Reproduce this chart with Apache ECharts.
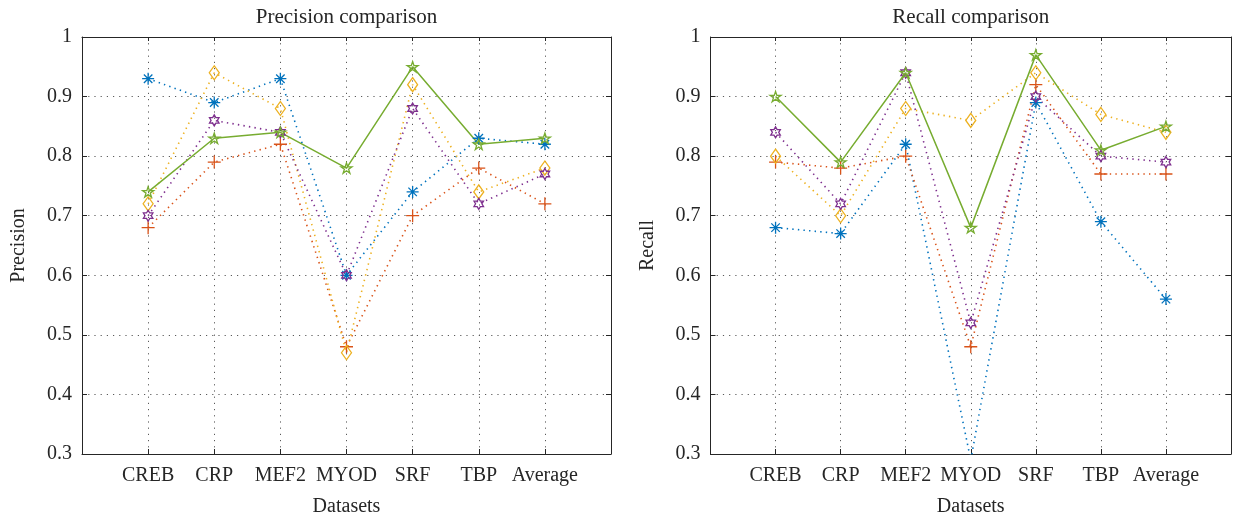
<!DOCTYPE html>
<html>
<head>
<meta charset="utf-8">
<script src="https://cdn.jsdelivr.net/npm/echarts@6/dist/echarts.min.js"></script>
<style>
html,body{margin:0;padding:0;background:#fff;}
#chart{width:1239px;height:520px;}
</style>
</head>
<body>
<div id="chart"></div>
<script>
// ---- data ----
const categories = ['CREB', 'CRP', 'MEF2', 'MYOD', 'SRF', 'TBP', 'Average'];
const yTicks = [0.3, 0.4, 0.5, 0.6, 0.7, 0.8, 0.9, 1];
const titles = ['Precision comparison', 'Recall comparison'];
const yNames = ['Precision', 'Recall'];
const xName = 'Datasets';

// Precision
const precBlue   = [0.93, 0.89, 0.93, 0.60, 0.74, 0.83, 0.82];
const precRed    = [0.68, 0.79, 0.82, 0.48, 0.70, 0.78, 0.72];
const precYellow = [0.72, 0.94, 0.88, 0.47, 0.92, 0.74, 0.78];
const precPurple = [0.70, 0.86, 0.84, 0.60, 0.88, 0.72, 0.77];
const precGreen  = [0.74, 0.83, 0.84, 0.78, 0.95, 0.82, 0.83];

// Recall
const recBlue   = [0.68, 0.67, 0.82, 0.29, 0.89, 0.69, 0.56];
const recRed    = [0.79, 0.78, 0.80, 0.48, 0.92, 0.77, 0.77];
const recYellow = [0.80, 0.70, 0.88, 0.86, 0.94, 0.87, 0.84];
const recPurple = [0.84, 0.72, 0.94, 0.52, 0.90, 0.80, 0.79];
const recGreen  = [0.90, 0.79, 0.94, 0.68, 0.97, 0.81, 0.85];

// ---- styles ----
const FONT = '"Liberation Serif", "DejaVu Serif", serif';
const AX = '#262626';
const GRIDC = '#5a5a5a';
const colors = { blue: '#0072BD', red: '#D95319', yellow: '#EDB120', purple: '#7E2F8E', green: '#77AC30' };
const SYM = {
  asterisk: 'path://M10,0L10,20M0,10L20,10M2.93,2.93L17.07,17.07M2.93,17.07L17.07,2.93',
  plus: 'path://M10,0L10,20M0,10L20,10',
  hexagram: 'path://M10,0L12.887,5L18.66,5L15.774,10L18.66,15L12.887,15L10,20L7.113,15L1.34,15L4.226,10L1.34,5L7.113,5Z',
  pentagram: 'path://M10,0L12.245,6.91L19.511,6.91L13.633,11.18L15.878,18.09L10,13.82L4.122,18.09L6.367,11.18L0.489,6.91L7.755,6.91Z'
};

const grids = [
  { left: 82, right: 1239 - 611, top: 37, bottom: 520 - 454, containLabel: false, outerBoundsMode: 'none' },
  { left: 710.5, right: 1239 - 1231, top: 37, bottom: 520 - 454, containLabel: false, outerBoundsMode: 'none' }
];

const xAxes = [], yAxes = [], series = [], titleArr = [];
grids.forEach((g, gi) => {
  const cx = g.left + (1239 - g.right - g.left) / 2;
  titleArr.push({
    text: titles[gi], left: cx, top: 7, textAlign: 'center', padding: 0,
    textStyle: { fontFamily: FONT, fontSize: 21, fontWeight: 'normal', color: AX }
  });
  const dotted = { show: true, lineStyle: { color: GRIDC, width: 1, type: [1.2, 5] } };
  xAxes.push({
    type: 'value', gridIndex: gi, min: 0, max: 8, interval: 1, position: 'bottom',
    axisLine: { show: true, onZero: false, lineStyle: { color: AX, width: 1 } },
    axisTick: { show: true, inside: true, length: 5, lineStyle: { color: AX } },
    axisLabel: { margin: 12, fontFamily: FONT, fontSize: 20, color: AX,
      formatter: v => categories[v - 1] || '' },
    splitLine: dotted,
    name: xName, nameLocation: 'middle', nameGap: 43,
    nameTextStyle: { fontFamily: FONT, fontSize: 20, color: AX }
  });
  xAxes.push({
    type: 'value', gridIndex: gi, min: 0, max: 8, interval: 1, position: 'top',
    axisLine: { show: true, onZero: false, lineStyle: { color: AX, width: 1 } },
    axisTick: { show: true, inside: true, length: 4, lineStyle: { color: AX } },
    axisLabel: { show: false }, splitLine: { show: false }
  });
  yAxes.push({
    type: 'value', gridIndex: gi, min: yTicks[0], max: yTicks[yTicks.length - 1], interval: 0.1, position: 'left',
    axisLine: { show: true, onZero: false, lineStyle: { color: AX, width: 1 } },
    axisTick: { show: true, inside: true, length: 5, lineStyle: { color: AX } },
    axisLabel: { margin: 10, fontFamily: FONT, fontSize: 20, color: AX,
      formatter: v => String(Math.round(v * 10) / 10) },
    splitLine: dotted,
    name: yNames[gi], nameLocation: 'middle', nameGap: 53,
    nameTextStyle: { fontFamily: FONT, fontSize: 20, color: AX }
  });
  yAxes.push({
    type: 'value', gridIndex: gi, min: yTicks[0], max: yTicks[yTicks.length - 1], interval: 0.1, position: 'right',
    axisLine: { show: true, onZero: false, lineStyle: { color: AX, width: 1 } },
    axisTick: { show: true, inside: true, length: 5, lineStyle: { color: AX } },
    axisLabel: { show: false }, splitLine: { show: false }
  });
});

function mk(gi, vals, color, symbol, size, solid) {
  return {
    type: 'line', xAxisIndex: gi * 2, yAxisIndex: gi * 2,
    data: vals.map((v, i) => [i + 1, v]),
    symbol: symbol, symbolSize: size, symbolKeepAspect: true, showSymbol: true,
    lineStyle: { color: color, width: solid ? 1.5 : 1.6, type: solid ? 'solid' : [1.4, 4.2] },
    itemStyle: { color: 'rgba(0,0,0,0)', borderColor: color, borderWidth: 1.3 },
    emphasis: { disabled: true },
    clip: true
  };
}
const sets = [
  [precBlue, precRed, precYellow, precPurple, precGreen],
  [recBlue, recRed, recYellow, recPurple, recGreen]
];
sets.forEach((s, gi) => {
  series.push(mk(gi, s[0], colors.blue, SYM.asterisk, 12, false));
  series.push(mk(gi, s[1], colors.red, SYM.plus, 13, false));
  series.push(mk(gi, s[2], colors.yellow, 'diamond', [10, 14], false));
  series.push(mk(gi, s[3], colors.purple, SYM.hexagram, 11, false));
  series.push(mk(gi, s[4], colors.green, SYM.pentagram, 11, true));
});

const chart = echarts.init(document.getElementById('chart'), null, { renderer: 'canvas' });
chart.setOption({
  animation: false,
  backgroundColor: '#fff',
  title: titleArr,
  grid: grids,
  xAxis: xAxes,
  yAxis: yAxes,
  series: series
});
</script>
</body>
</html>
